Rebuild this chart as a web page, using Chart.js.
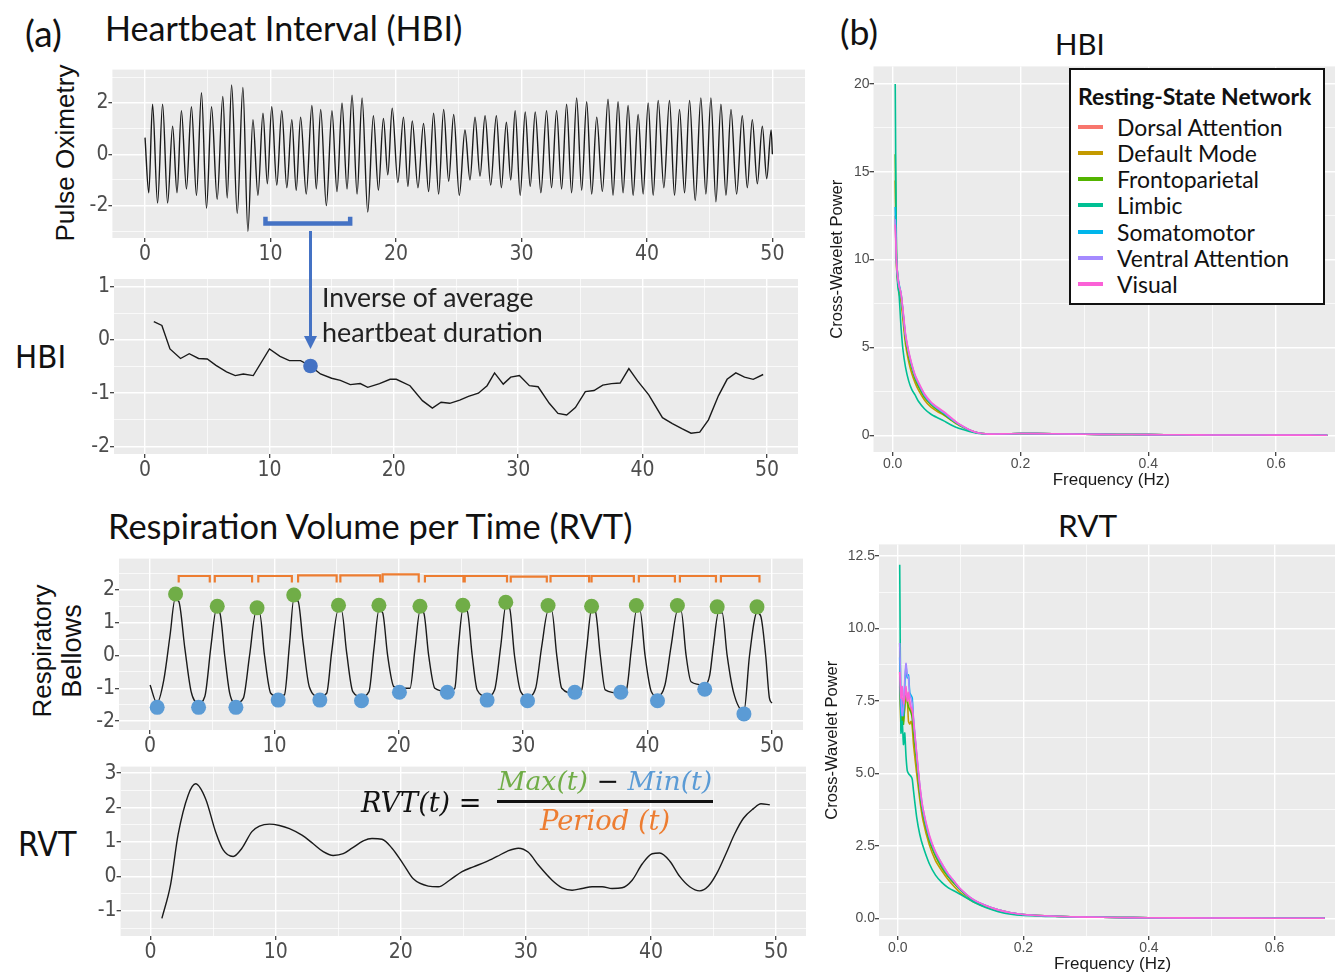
<!DOCTYPE html>
<html>
<head>
<meta charset="utf-8">
<script src="https://cdn.jsdelivr.net/npm/chart.js@4.4.1/dist/chart.umd.min.js"></script>
<style>
  html, body { margin: 0; padding: 0; background: #fff; }
  body { position: relative; width: 1335px; height: 975px; overflow: hidden; }
  canvas { position: absolute; }
  .lbl { position: absolute; transform: translateY(-50%); white-space: nowrap; line-height: 1; font-family: Lato, 'Noto Sans', sans-serif; color: #111; }
  .rot { position: absolute; transform: translate(-50%, -50%) rotate(-90deg); white-space: nowrap; line-height: 1; font-family: 'Liberation Sans', Arial, sans-serif; color: #111; }
  .narrow { font-family: 'Liberation Sans Narrow', 'DejaVu Sans Condensed', 'Arial Narrow', sans-serif; }
  .math { font-family: 'DejaVu Serif', serif; font-style: italic; }
  #legend { position: absolute; left: 1069px; top: 68px; width: 256px; height: 237px; box-sizing: border-box; border: 2.5px solid #111; background: #fff; }
  .sw { position: absolute; left: 1078px; width: 25px; height: 4px; margin-top: -2px; }
</style>
</head>
<body>

<div class="lbl" style="left:25px;top:32px;font-size:30px" data-w="37">(a)</div>
<div class="lbl" style="left:105px;top:28px;font-size:32px" data-w="357">Heartbeat Interval (HBI)</div>
<div class="lbl" style="left:108px;top:526px;font-size:32px" data-w="524">Respiration Volume per Time (RVT)</div>
<div class="lbl" style="left:840px;top:32px;font-size:30px" data-w="38">(b)</div>
<div class="lbl" style="left:1055px;top:44px;font-size:30px" data-w="50">HBI</div>
<div class="lbl" style="left:1058px;top:526px;font-size:30px" data-w="59">RVT</div>
<div class="lbl narrow" style="left:15px;top:357px;font-size:36px" data-w="51">HBI</div>
<div class="lbl narrow" style="left:18px;top:845px;font-size:36px" data-w="58">RVT</div>
<div class="rot" style="left:65px;top:153px;font-size:26px" data-w="177">Pulse Oximetry</div>
<div class="rot" style="left:42px;top:651px;font-size:26px" data-w="133">Respiratory</div>
<div class="rot" style="left:72px;top:651px;font-size:26px" data-w="94">Bellows</div>

<canvas id="pulse"></canvas>
<canvas id="hbi"></canvas>
<canvas id="resp"></canvas>
<canvas id="rvt"></canvas>
<canvas id="xwHbi"></canvas>
<canvas id="xwRvt"></canvas>

<div class="lbl" style="left:322px;top:297px;font-size:24px;color:#222" data-w="211">Inverse of average</div>
<div class="lbl" style="left:322px;top:332px;font-size:24px;color:#222" data-w="221">heartbeat duration</div>

<div class="lbl math" style="left:361px;top:803px;font-size:24px" data-w="121">RVT(t) <span style="font-style:normal">=</span></div>
<div class="lbl math" style="left:498px;top:781px;font-size:24px" data-w="214"><span style="color:#70AD47">Max(t)</span> <span style="font-style:normal;color:#111">&minus;</span> <span style="color:#5B9BD5">Min(t)</span></div>
<div style="position:absolute;left:497px;top:800px;width:216px;height:3px;background:#111"></div>
<div class="lbl math" style="left:540px;top:821px;font-size:24px;color:#ED7D31" data-w="130">Period (t)</div>

<div id="legend"></div>

<script>
// ---- (a) pulse oximetry: alternating troughs / peaks
const pulseT = [0, 0.3, 0.6, 1.0, 1.4, 1.8, 2.2, 2.55, 2.9, 3.3, 3.7, 4.1, 4.5, 4.9, 5.3, 5.75, 6.2, 6.55, 6.9, 7.35, 7.8, 8.2, 8.6, 9.0, 9.4, 9.75, 10.1, 10.5, 10.9, 11.3, 11.7, 12.05, 12.4, 12.85, 13.3, 13.65, 14.0, 14.45, 14.9, 15.3, 15.7, 16.1, 16.5, 16.9, 17.3, 17.75, 18.2, 18.6, 19.0, 19.35, 19.7, 20.15, 20.6, 20.95, 21.3, 21.75, 22.2, 22.6, 23.0, 23.4, 23.8, 24.2, 24.6, 25.05, 25.5, 25.9, 26.3, 26.7, 27.1, 27.55, 28.0, 28.4, 28.8, 29.15, 29.5, 29.9, 30.3, 30.7, 31.1, 31.55, 32.0, 32.4, 32.8, 33.2, 33.6, 34.0, 34.4, 34.8, 35.2, 35.6, 36.0, 36.45, 36.9, 37.3, 37.7, 38.1, 38.5, 38.9, 39.3, 39.7, 40.1, 40.5, 40.9, 41.35, 41.8, 42.2, 42.6, 43.0, 43.4, 43.85, 44.3, 44.7, 45.1, 45.5, 45.9, 46.3, 46.7, 47.15, 47.6, 48.0, 48.4, 48.8, 49.2, 49.55, 49.9, 50.0];
const pulseV = [0.65, -1.5, 1.95, -1.9, 1.95, -1.9, 1.1, -1.5, 1.7, -1.35, 1.85, -1.6, 2.4, -2.1, 1.85, -1.75, 2.25, -1.7, 2.7, -2.3, 2.6, -3.0, 1.35, -1.6, 1.6, -1.15, 1.85, -1.2, 1.7, -1.3, 1.35, -1.4, 1.45, -1.55, 1.9, -1.35, 1.75, -2.0, 1.7, -1.45, 2.0, -1.35, 2.3, -1.55, 2.2, -2.25, 1.5, -1.4, 1.4, -0.8, 1.8, -1.1, 1.45, -1.25, 1.3, -1.3, 1.2, -1.45, 1.6, -1.55, 1.75, -1.05, 1.55, -1.6, 0.95, -1.0, 1.45, -0.85, 1.5, -1.2, 1.5, -1.3, 1.25, -1.0, 1.7, -1.6, 1.65, -1.25, 1.65, -1.5, 1.7, -1.3, 1.7, -1.35, 1.95, -1.5, 2.2, -1.4, 2.05, -1.55, 1.45, -1.45, 2.15, -1.6, 2.05, -1.5, 1.9, -1.6, 1.55, -1.55, 2.0, -1.6, 2.1, -1.3, 2.1, -1.6, 1.75, -1.5, 2.1, -1.8, 2.2, -1.55, 2.2, -1.85, 1.95, -1.6, 1.75, -1.55, 1.5, -1.3, 1.35, -1.15, 1.1, -0.95, 0.95, 0.0];
const hbiWindow = [9.6, 16.35];      // blue bracket, seconds
const hbiWindowY = [-2.43, -2.7];    // bracket ends / bar

// ---- HBI series
const hbiT = [0.7, 1.35, 2.0, 2.85, 3.55, 4.3, 5.0, 5.7, 6.55, 7.25, 7.9, 8.7, 10.0, 10.85, 11.6, 12.5, 13.3, 14.1, 15.0, 15.7, 16.5, 17.3, 17.9, 18.85, 19.7, 20.2, 21.3, 22.3, 23.1, 23.8, 24.5, 25.3, 26.0, 26.8, 27.5, 28.1, 28.8, 29.4, 30.1, 30.9, 31.6, 32.5, 33.2, 33.9, 34.6, 35.4, 36.1, 36.8, 37.5, 38.2, 38.9, 39.6, 40.5, 41.6, 42.4, 43.2, 43.9, 44.6, 45.3, 46.1, 46.8, 47.5, 48.2, 48.9, 49.7];
const hbiV = [0.34, 0.27, -0.17, -0.35, -0.26, -0.35, -0.36, -0.48, -0.6, -0.67, -0.64, -0.67, -0.17, -0.31, -0.39, -0.39, -0.49, -0.64, -0.72, -0.76, -0.84, -0.82, -0.89, -0.82, -0.74, -0.74, -0.86, -1.14, -1.28, -1.17, -1.19, -1.13, -1.06, -1.0, -0.86, -0.62, -0.83, -0.7, -0.67, -0.86, -0.88, -1.19, -1.38, -1.41, -1.27, -0.97, -0.95, -0.85, -0.82, -0.81, -0.54, -0.77, -1.03, -1.46, -1.57, -1.67, -1.75, -1.73, -1.5, -1.05, -0.74, -0.62, -0.7, -0.74, -0.65];
const hbiDotT = [13.3];
const hbiDotV = [-0.49];

// ---- respiratory bellows
const respT = [0.0, 0.55, 1.1, 1.6, 2.0, 2.3, 2.8, 3.3, 3.9, 4.4, 4.9, 5.3, 5.6, 6.0, 6.4, 6.9, 7.5, 8.0, 8.5, 8.8, 9.2, 9.7, 10.3, 10.8, 11.2, 11.55, 11.9, 12.3, 12.8, 13.6, 14.2, 14.6, 15.1, 15.4, 15.8, 16.3, 17.0, 17.6, 18.0, 18.4, 18.7, 19.1, 19.6, 20.1, 20.9, 21.3, 21.7, 22.0, 22.4, 22.9, 23.9, 24.5, 24.8, 25.15, 25.5, 25.9, 26.3, 27.1, 27.7, 28.2, 28.6, 28.9, 29.3, 29.8, 30.4, 31.0, 31.5, 32.0, 32.3, 32.7, 33.1, 34.1, 34.7, 35.1, 35.5, 35.8, 36.2, 36.6, 37.9, 38.3, 38.7, 39.1, 39.4, 39.8, 40.3, 40.8, 41.4, 41.9, 42.4, 42.7, 43.1, 43.5, 44.6, 45.0, 45.3, 45.7, 46.0, 46.4, 46.9, 47.75, 48.2, 48.8, 49.1, 49.5, 49.8, 50.0];
const respV = [-0.9, -1.45, -0.75, 0.6, 1.7, 1.65, 0.2, -1.1, -1.45, -1.25, 0.3, 1.35, 1.3, 0.0, -1.15, -1.45, -1.3, 0.0, 1.3, 1.3, 0.0, -1.15, -1.25, -1.2, 0.3, 1.7, 1.65, 0.4, -0.95, -1.25, -1.15, 0.1, 1.35, 1.35, 0.1, -1.1, -1.25, -1.1, 0.2, 1.38, 1.3, 0.0, -0.95, -1.0, -1.0, 0.2, 1.35, 1.3, 0.0, -1.0, -1.1, -1.0, 0.3, 1.4, 1.35, 0.0, -1.05, -1.25, -1.05, 0.3, 1.5, 1.45, 0.0, -1.1, -1.25, -1.0, 0.3, 1.35, 1.35, 0.0, -1.0, -1.15, -1.05, 0.2, 1.4, 1.35, 0.0, -1.05, -1.15, -1.05, 0.2, 1.35, 1.35, 0.0, -1.1, -1.25, -0.9, 0.3, 1.35, 1.35, 0.0, -0.8, -0.9, -0.6, 0.3, 1.3, 1.3, 0.0, -1.1, -1.7, 0.0, 1.3, 1.2, 0.0, -1.3, -1.45];
const maxT = [2.05, 5.4, 8.6, 11.55, 15.15, 18.4, 21.7, 25.15, 28.6, 32.0, 35.5, 39.1, 42.4, 45.6, 48.8];
const maxV = [1.87, 1.5, 1.45, 1.84, 1.53, 1.53, 1.5, 1.53, 1.62, 1.52, 1.5, 1.52, 1.52, 1.48, 1.48];
const minT = [0.57, 3.9, 6.9, 10.3, 13.65, 17.0, 20.05, 23.9, 27.1, 30.35, 34.15, 37.85, 40.8, 44.6, 47.75];
const minV = [-1.58, -1.58, -1.58, -1.36, -1.36, -1.38, -1.12, -1.12, -1.36, -1.38, -1.12, -1.12, -1.38, -1.03, -1.78];
const periodStart = [2.3, 5.2, 8.7, 11.9, 15.3, 18.7, 22.1, 25.3, 29.0, 32.2, 35.5, 39.3, 42.6, 45.9];
const periodEnd = [4.8, 8.2, 11.4, 15.0, 18.5, 21.6, 25.2, 28.7, 31.9, 35.3, 38.9, 42.2, 45.5, 49.0];
const periodTop = [2.42, 2.42, 2.42, 2.44, 2.44, 2.47, 2.42, 2.42, 2.4, 2.42, 2.42, 2.42, 2.42, 2.42];
const periodFoot = 2.22;

// ---- RVT series
const rvtT = [0.9, 1.6, 2.2, 3.0, 3.6, 4.4, 5.2, 5.8, 6.6, 7.3, 8.1, 8.7, 9.5, 10.3, 11.1, 12.1, 13.0, 13.8, 14.6, 15.4, 16.1, 17.0, 17.7, 18.5, 19.3, 20.2, 21.0, 22.2, 23.0, 23.9, 24.9, 25.8, 26.8, 27.7, 28.5, 29.4, 30.2, 31.0, 32.1, 32.9, 33.7, 34.5, 35.3, 36.1, 36.9, 37.7, 38.5, 39.3, 40.1, 40.7, 41.5, 42.3, 43.1, 43.9, 44.6, 45.3, 46.0, 46.7, 47.4, 48.2, 48.8, 49.5];
const rvtV = [-1.22, -0.23, 1.22, 2.36, 2.69, 2.25, 1.29, 0.77, 0.58, 0.82, 1.3, 1.46, 1.52, 1.48, 1.39, 1.2, 0.95, 0.72, 0.61, 0.66, 0.82, 1.03, 1.1, 1.08, 0.82, 0.36, -0.07, -0.28, -0.3, -0.11, 0.14, 0.28, 0.42, 0.58, 0.73, 0.82, 0.7, 0.33, -0.11, -0.33, -0.4, -0.35, -0.3, -0.3, -0.35, -0.33, -0.11, 0.36, 0.66, 0.68, 0.45, 0.0, -0.3, -0.42, -0.28, 0.11, 0.66, 1.24, 1.69, 1.97, 2.11, 2.08];

// ---- (b) cross-wavelet power per resting-state network
const networks = ['Dorsal Attention', 'Default Mode', 'Frontoparietal', 'Limbic', 'Somatomotor', 'Ventral Attention', 'Visual'];
const netColors = ['#F8766D', '#C49A00', '#53B400', '#00C094', '#00B6EB', '#A58AFF', '#FB61D7'];

const hbiFreq = [0.004, 0.006, 0.008, 0.01, 0.013, 0.016, 0.02, 0.025, 0.03, 0.035, 0.04, 0.05, 0.06, 0.07, 0.08, 0.09, 0.1, 0.11, 0.12, 0.13, 0.14, 0.15, 0.17, 0.2, 0.25, 0.3, 0.35, 0.4, 0.45, 0.5, 0.55, 0.6, 0.65, 0.68];
const hbiDorsal = [12.5, 9.8, 8.9, 8.4, 8.0, 7.0, 5.6, 4.6, 3.9, 3.3, 2.9, 2.2, 1.8, 1.5, 1.25, 0.95, 0.7, 0.48, 0.3, 0.17, 0.1, 0.07, 0.08, 0.1, 0.09, 0.06, 0.05, 0.04, 0.03, 0.02, 0.02, 0.01, 0.01, 0.0];
const hbiDefault = [14.5, 9.6, 8.7, 8.1, 7.6, 6.6, 5.2, 4.2, 3.5, 3.0, 2.6, 2.0, 1.6, 1.35, 1.15, 0.9, 0.65, 0.45, 0.28, 0.16, 0.1, 0.07, 0.08, 0.1, 0.09, 0.06, 0.05, 0.04, 0.03, 0.02, 0.02, 0.01, 0.01, 0.0];
const hbiFronto = [16.0, 10.2, 9.0, 8.5, 8.0, 7.0, 5.5, 4.5, 3.8, 3.2, 2.8, 2.15, 1.75, 1.45, 1.2, 0.92, 0.68, 0.47, 0.29, 0.17, 0.1, 0.07, 0.08, 0.1, 0.09, 0.06, 0.05, 0.04, 0.03, 0.02, 0.02, 0.01, 0.01, 0.0];
const hbiLimbic = [20.0, 10.0, 8.5, 8.0, 6.2, 4.9, 3.9, 3.1, 2.6, 2.3, 1.95, 1.5, 1.2, 1.0, 0.82, 0.62, 0.45, 0.33, 0.22, 0.14, 0.09, 0.07, 0.08, 0.1, 0.09, 0.06, 0.05, 0.04, 0.03, 0.02, 0.02, 0.01, 0.01, 0.0];
const hbiSomato = [13.0, 10.0, 9.1, 8.6, 8.1, 7.1, 5.7, 4.7, 3.95, 3.35, 2.95, 2.25, 1.82, 1.52, 1.27, 0.97, 0.71, 0.49, 0.3, 0.17, 0.1, 0.07, 0.08, 0.1, 0.09, 0.06, 0.05, 0.04, 0.03, 0.02, 0.02, 0.01, 0.01, 0.0];
const hbiVentral = [12.3, 9.9, 9.0, 8.5, 8.1, 7.1, 5.7, 4.7, 4.0, 3.4, 3.0, 2.3, 1.85, 1.55, 1.3, 1.0, 0.72, 0.5, 0.31, 0.18, 0.1, 0.07, 0.08, 0.1, 0.09, 0.06, 0.05, 0.04, 0.03, 0.02, 0.02, 0.01, 0.01, 0.0];
const hbiVisual = [12.0, 9.9, 9.0, 8.5, 8.1, 7.2, 5.8, 4.8, 4.05, 3.45, 3.05, 2.35, 1.9, 1.6, 1.35, 1.05, 0.75, 0.52, 0.32, 0.18, 0.1, 0.07, 0.08, 0.1, 0.09, 0.06, 0.05, 0.04, 0.03, 0.02, 0.02, 0.01, 0.01, 0.0];

const rvtFreq = [0.003, 0.005, 0.007, 0.009, 0.011, 0.013, 0.015, 0.017, 0.019, 0.021, 0.023, 0.025, 0.03, 0.035, 0.04, 0.05, 0.06, 0.07, 0.08, 0.09, 0.1, 0.12, 0.14, 0.16, 0.18, 0.2, 0.25, 0.3, 0.35, 0.4, 0.5, 0.6, 0.68];
const rvtDorsal = [8.0, 7.2, 7.6, 6.8, 7.5, 7.9, 7.6, 7.7, 7.4, 7.2, 7.0, 6.5, 5.5, 4.4, 3.65, 2.75, 2.2, 1.8, 1.47, 1.22, 0.98, 0.64, 0.44, 0.3, 0.2, 0.14, 0.08, 0.05, 0.04, 0.03, 0.02, 0.01, 0.01];
const rvtDefault = [8.5, 6.6, 7.0, 6.9, 7.2, 7.7, 7.6, 6.8, 6.7, 6.8, 6.6, 6.0, 5.0, 4.1, 3.4, 2.55, 2.0, 1.65, 1.35, 1.1, 0.88, 0.58, 0.4, 0.27, 0.18, 0.13, 0.08, 0.05, 0.04, 0.03, 0.02, 0.01, 0.01];
const rvtFronto = [9.5, 6.5, 7.0, 6.7, 7.5, 7.9, 7.5, 7.3, 7.2, 7.1, 6.9, 6.4, 5.4, 4.3, 3.6, 2.7, 2.15, 1.75, 1.45, 1.2, 0.97, 0.63, 0.43, 0.29, 0.19, 0.14, 0.08, 0.05, 0.04, 0.03, 0.02, 0.01, 0.01];
const rvtLimbic = [12.2, 6.4, 6.8, 6.0, 6.4, 5.6, 5.1, 5.0, 4.95, 4.9, 4.8, 4.4, 3.5, 2.9, 2.5, 1.9, 1.5, 1.25, 1.07, 0.95, 0.83, 0.58, 0.38, 0.24, 0.15, 0.11, 0.07, 0.05, 0.04, 0.03, 0.02, 0.01, 0.01];
const rvtSomato = [9.0, 7.0, 7.5, 7.0, 8.0, 8.7, 8.3, 8.4, 7.8, 7.7, 7.6, 6.8, 5.6, 4.5, 3.7, 2.8, 2.25, 1.85, 1.5, 1.25, 1.0, 0.65, 0.45, 0.3, 0.2, 0.14, 0.08, 0.05, 0.04, 0.03, 0.02, 0.01, 0.01];
const rvtVentral = [9.5, 7.8, 7.0, 7.3, 8.2, 8.8, 8.4, 8.3, 7.7, 7.6, 7.4, 6.9, 5.7, 4.6, 3.8, 2.85, 2.3, 1.9, 1.55, 1.28, 1.02, 0.66, 0.45, 0.3, 0.2, 0.14, 0.08, 0.05, 0.04, 0.03, 0.02, 0.01, 0.01];
const rvtVisual = [8.5, 7.6, 8.0, 7.4, 7.6, 8.0, 7.5, 7.8, 7.5, 7.3, 7.2, 6.8, 5.7, 4.6, 3.8, 2.9, 2.3, 1.9, 1.55, 1.28, 1.02, 0.66, 0.45, 0.3, 0.2, 0.14, 0.08, 0.05, 0.04, 0.03, 0.02, 0.01, 0.01];

// ---- tick labels (major) and minor grid positions
const secMajor = [0, 10, 20, 30, 40, 50];
const secMinor = [5, 15, 25, 35, 45];
const pulseMajor = [-2, 0, 2];
const pulseMinor = [-3, -1, 1, 3];
const hbiMajor = [-2, -1, 0, 1];
const hbiMinor = [-1.5, -0.5, 0.5];
const respMajor = [-2, -1, 0, 1, 2];
const respMinor = [-1.5, -0.5, 0.5, 1.5, 2.5];
const rvtMajor = [-1, 0, 1, 2, 3];
const rvtMinor = [-1.5, -0.5, 0.5, 1.5, 2.5];
const freqMajor = [0, 0.2, 0.4, 0.6];
const freqMinor = [0.1, 0.3, 0.5, 0.7];
const xwHbiMajor = [0, 5, 10, 15, 20];
const xwHbiMinor = [2.5, 7.5, 12.5, 17.5];
const xwRvtMajor = [0, 2.5, 5, 7.5, 10, 12.5];
const xwRvtMinor = [1.25, 3.75, 6.25, 8.75, 11.25];

// ---------------------------------------------------------------------------
const NARROW = "'Liberation Sans Narrow', 'DejaVu Sans Condensed', 'Arial Narrow', sans-serif";
const ARIAL = "'Liberation Sans', Arial, sans-serif";

const pts = (xs, ys) => xs.map((x, i) => ({x: x, y: ys[i]}));

// grey ggplot panel
const panelBg = {
  id: 'panelBg',
  beforeDraw(chart) {
    const {ctx, chartArea: a} = chart;
    ctx.save();
    ctx.fillStyle = '#EBEBEB';
    ctx.fillRect(a.left, a.top, a.right - a.left, a.bottom - a.top);
    ctx.restore();
  }
};

function axis(range, major, minor, fmt, font, size, extra) {
  const all = major.concat(minor).sort((a, b) => a - b);
  const isMajor = v => major.some(m => Math.abs(m - v) < 1e-9);
  return Object.assign({
    type: 'linear',
    min: range[0],
    max: range[1],
    afterBuildTicks: ax => { ax.ticks = all.map(v => ({value: v})); },
    afterFit: ax => { if (ax.isHorizontal()) ax.height = size; else ax.width = size; },
    border: {display: false},
    grid: {
      color: '#ffffff',
      lineWidth: c => (c.tick && isMajor(c.tick.value)) ? 1.4 : 0.7,
      tickColor: c => (c.tick && isMajor(c.tick.value)) ? '#333333' : 'rgba(0,0,0,0)',
      tickLength: 4,
      tickWidth: 1.2
    },
    ticks: {
      autoSkip: false, maxRotation: 0, minRotation: 0, padding: 0,
      color: '#4d4d4d', font: font,
      callback: v => isMajor(v) ? fmt(v) : ''
    }
  }, extra || {});
}

// place a canvas so that its chart area lands on [l, t, r, b]
function makeChart(id, area, yw, padT, xh, padR, scales, datasets, plugins) {
  const c = document.getElementById(id);
  const w = Math.round(area[2] - area[0] + yw + padR);
  const h = Math.round(area[3] - area[1] + padT + xh);
  c.width = w; c.height = h;
  c.style.left = (area[0] - yw) + 'px';
  c.style.top = (area[1] - padT) + 'px';
  c.style.width = w + 'px'; c.style.height = h + 'px';
  return new Chart(c, {
    type: 'line',
    data: {datasets: datasets},
    options: {
      responsive: false, animation: false, devicePixelRatio: 1,
      layout: {padding: {left: 0, top: padT, right: padR, bottom: 0}},
      plugins: {legend: {display: false}, tooltip: {enabled: false}},
      scales: scales
    },
    plugins: [panelBg].concat(plugins || [])
  });
}

const int = v => String(v);
const leftFont = {family: NARROW, size: 21};
const traceStyle = {borderColor: '#1a1a1a', borderWidth: 1.4, pointRadius: 0, fill: false};

// pulse oximetry
const bracketPts = [
  {x: hbiWindow[0], y: hbiWindowY[0]}, {x: hbiWindow[0], y: hbiWindowY[1]},
  {x: hbiWindow[1], y: hbiWindowY[1]}, {x: hbiWindow[1], y: hbiWindowY[0]}
];
makeChart('pulse', [112.4, 62, 804.6, 238], 82.4, 5, 30, 10, {
  x: axis([-2.6, 52.6], secMajor, secMinor, int, leftFont, 30),
  y: axis([-3.26, 3.3], pulseMajor, pulseMinor, int, leftFont, 82.4)
}, [
  Object.assign({data: pts(pulseT, pulseV), cubicInterpolationMode: 'monotone'}, traceStyle),
  {data: bracketPts, borderColor: '#4472C4', borderWidth: 4.5, pointRadius: 0, borderJoinStyle: 'miter', borderCapStyle: 'butt'}
]);

// HBI, with the arrow coming down from the pulse window
const arrowPlugin = {
  id: 'hbiArrow',
  afterDatasetsDraw(chart) {
    const {ctx, chartArea, scales} = chart;
    const px = scales.x.getPixelForValue(hbiDotT[0]);
    const py = scales.y.getPixelForValue(hbiDotV[0]);
    const y0 = chartArea.top - 48, tip = py - 17;
    ctx.save();
    ctx.strokeStyle = '#4472C4'; ctx.fillStyle = '#4472C4'; ctx.lineWidth = 3;
    ctx.beginPath(); ctx.moveTo(px, y0); ctx.lineTo(px, tip - 10); ctx.stroke();
    ctx.beginPath(); ctx.moveTo(px - 6.5, tip - 13); ctx.lineTo(px + 6.5, tip - 13); ctx.lineTo(px, tip); ctx.closePath(); ctx.fill();
    ctx.restore();
  }
};
makeChart('hbi', [114, 278.5, 798, 453.5], 24, 55, 30, 10, {
  x: axis([-2.5, 52.5], secMajor, secMinor, int, leftFont, 30),
  y: axis([-2.14, 1.14], hbiMajor, hbiMinor, int, leftFont, 24)
}, [
  {data: pts(hbiDotT, hbiDotV), showLine: false, pointRadius: 7.3, pointBackgroundColor: '#4472C4', pointBorderWidth: 0},
  Object.assign({data: pts(hbiT, hbiV), tension: 0}, traceStyle)
], [arrowPlugin]);

// respiratory bellows
const periodPts = [];
periodStart.forEach((s, i) => {
  periodPts.push({x: s, y: periodFoot}, {x: s, y: periodTop[i]}, {x: periodEnd[i], y: periodTop[i]}, {x: periodEnd[i], y: periodFoot});
  periodPts.push({x: periodEnd[i] + 0.01, y: null});
});
makeChart('resp', [119, 550.5, 803, 729], 99, 5, 30, 10, {
  x: axis([-2.5, 52.5], secMajor, secMinor, int, leftFont, 30),
  y: axis([-2.27, 2.95], respMajor, respMinor, int, leftFont, 99)
}, [
  {data: pts(maxT, maxV), showLine: false, pointRadius: 7.5, pointBackgroundColor: '#70AD47', pointBorderWidth: 0},
  {data: pts(minT, minV), showLine: false, pointRadius: 7.5, pointBackgroundColor: '#5B9BD5', pointBorderWidth: 0},
  Object.assign({data: pts(respT, respV), cubicInterpolationMode: 'monotone'}, traceStyle),
  {data: periodPts, borderColor: '#ED7D31', borderWidth: 2.2, pointRadius: 0, spanGaps: false}
]);

// RVT
makeChart('rvt', [120.6, 759, 806, 936], 25.6, 5, 30, 10, {
  x: axis([-2.4, 52.4], secMajor, secMinor, int, leftFont, 30),
  y: axis([-1.73, 3.19], rvtMajor, rvtMinor, int, leftFont, 25.6)
}, [
  Object.assign({data: pts(rvtT, rvtV), cubicInterpolationMode: 'monotone'}, traceStyle)
]);

// cross-wavelet panels
const rightFont = {family: ARIAL, size: 14};
function netSets(freq, series) {
  return series.map((s, i) => ({
    label: networks[i], data: pts(freq, s),
    borderColor: netColors[i], borderWidth: 1.6, pointRadius: 0, tension: 0.2,
    order: series.length - 1 - i
  }));
}
const f1 = v => v.toFixed(1);
function xTitle() { return {display: true, text: 'Frequency (Hz)', color: '#1a1a1a', font: {family: ARIAL, size: 17}, padding: {top: 0, bottom: 1}}; }
function yTitle(pad) { return {display: true, text: 'Cross-Wavelet Power', color: '#1a1a1a', font: {family: ARIAL, size: 16.5}, padding: {top: pad, bottom: 0}}; }

makeChart('xwHbi', [873.5, 62.5, 1349, 451], 51.5, 5, 40, 0, {
  x: axis([-0.03, 0.714], freqMajor, freqMinor, f1, rightFont, 40, {title: xTitle()}),
  y: axis([-0.95, 21], xwHbiMajor, xwHbiMinor, int, rightFont, 51.5, {title: yTitle(6)})
}, netSets(hbiFreq, [hbiDorsal, hbiDefault, hbiFronto, hbiLimbic, hbiSomato, hbiVentral, hbiVisual]));

makeChart('xwRvt', [879, 541, 1346, 935.5], 57, 5, 40, 0, {
  x: axis([-0.03, 0.714], freqMajor, freqMinor, f1, rightFont, 40, {title: xTitle()}),
  y: axis([-0.6, 12.9], xwRvtMajor, xwRvtMinor, f1, rightFont, 57, {title: yTitle(1)})
}, netSets(rvtFreq, [rvtDorsal, rvtDefault, rvtFronto, rvtLimbic, rvtSomato, rvtVentral, rvtVisual]));

// legend (built from the same names / colours)
const leg = document.getElementById('legend');
let html = '';
const legTitle = '<div class="lbl" style="left:1078px;top:96px;font-size:21px;font-weight:bold" data-w="233">Resting-State Network</div>';
networks.forEach((n, i) => {
  const cy = 126.5 + 26.3 * i;
  html += '<div class="sw" style="top:' + cy + 'px;background:' + netColors[i] + '"></div>';
  html += '<div class="lbl legtxt" style="left:1117px;top:' + cy + 'px;font-size:22px"' + (i === 0 ? ' data-w="166"' : '') + '>' + n + '</div>';
});
leg.insertAdjacentHTML('afterend', legTitle + html);

// fit text widths to the reference
function fitText() {
  document.querySelectorAll('[data-w]').forEach(el => {
    const target = +el.dataset.w;
    const fs = parseFloat(getComputedStyle(el).fontSize);
    el.style.fontSize = (fs * target / el.offsetWidth) + 'px';
  });
  const first = document.querySelector('.legtxt');
  document.querySelectorAll('.legtxt').forEach(el => { el.style.fontSize = first.style.fontSize; });
}
fitText();
if (document.fonts && document.fonts.ready) document.fonts.ready.then(fitText);
</script>
</body>
</html>
